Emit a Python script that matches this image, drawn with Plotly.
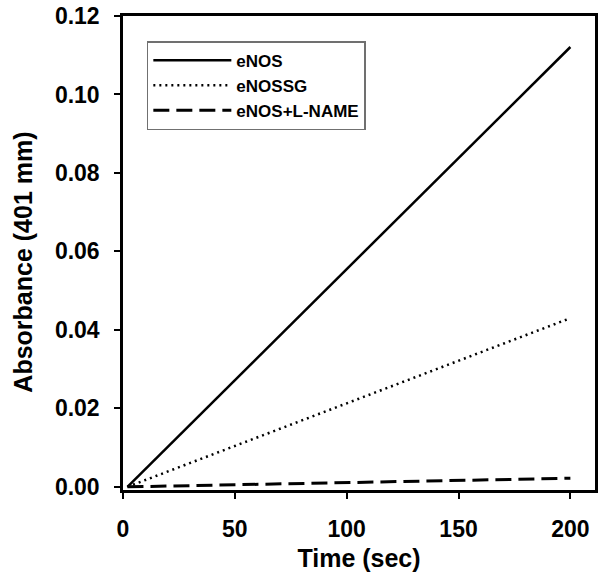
import plotly.graph_objects as go

time = [2, 200]
enos = [0.0, 0.1121]
enossg = [0.0, 0.0430]
enos_lname = [0.0, 0.0022]

series_names = ["eNOS", "eNOSSG", "eNOS+L-NAME"]
x_ticks = [0, 50, 100, 150, 200]
y_ticks = [0.00, 0.02, 0.04, 0.06, 0.08, 0.10, 0.12]
x_title = "Time (sec)"
y_title = "Absorbance (401 mm)"

FONT = "Liberation Sans, Arial, sans-serif"

fig = go.Figure()
fig.add_trace(go.Scatter(x=time, y=enos, mode="lines", name=series_names[0],
                         line=dict(color="black", width=2.5, dash="solid")))
fig.add_trace(go.Scatter(x=time, y=enossg, mode="lines", name=series_names[1],
                         line=dict(color="black", width=2.5, dash="2px,4px")))
fig.add_trace(go.Scatter(x=time, y=enos_lname, mode="lines", name=series_names[2],
                         line=dict(color="black", width=3, dash="16px,7px")))

fig.update_layout(
    width=599, height=588,
    margin=dict(l=123, r=1, t=16, b=98),
    plot_bgcolor="white", paper_bgcolor="white",
    font=dict(family=FONT, color="black"),
    legend=dict(
        x=0.0505, y=0.947, xanchor="left", yanchor="top",
        bordercolor="#707070", borderwidth=1.5, bgcolor="white",
        font=dict(family=FONT, size=17, color="black", weight="bold"),
        itemwidth=78, tracegroupgap=0,
    ),
    xaxis=dict(
        range=[0, 211], tickvals=x_ticks, ticktext=[str(v) for v in x_ticks],
        showline=True, linecolor="black", linewidth=2.5, mirror=True,
        ticks="outside", ticklen=6, tickwidth=2, tickcolor="black",
        showgrid=False, zeroline=False,
        tickfont=dict(family=FONT, size=23, weight="bold"),
        ticklabelstandoff=11,
        title=dict(text=x_title, font=dict(family=FONT, size=25, weight="bold"), standoff=9),
    ),
    yaxis=dict(
        range=[-0.0008, 0.12], tickvals=y_ticks, ticktext=[f"{v:.2f}" for v in y_ticks],
        showline=True, linecolor="black", linewidth=2.5, mirror=True,
        ticks="outside", ticklen=6, tickwidth=2, tickcolor="black",
        showgrid=False, zeroline=False,
        tickfont=dict(family=FONT, size=23, weight="bold"),
        ticklabelstandoff=10,
    ),
    annotations=[dict(
        text=y_title, textangle=-90, xref="paper", yref="paper",
        x=-0.2126, y=0.481, xanchor="center", yanchor="middle", showarrow=False,
        font=dict(family=FONT, size=25, weight="bold", color="black"),
    )],
)

fig.write_html("out.html")
